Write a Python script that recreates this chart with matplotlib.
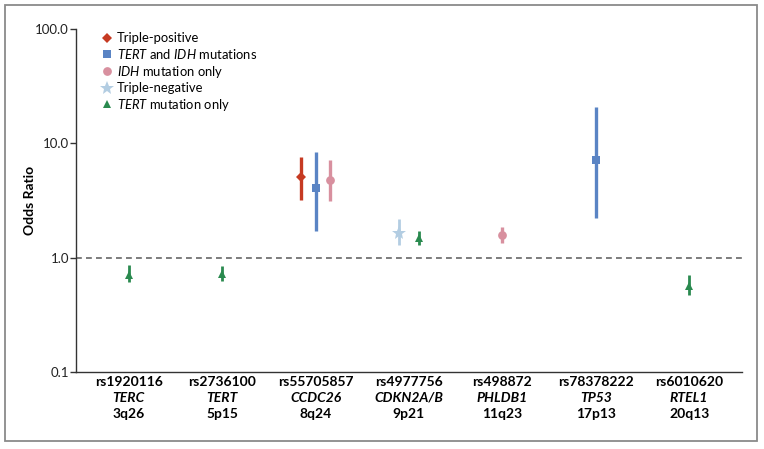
import numpy as np
import matplotlib
matplotlib.use("Agg")
import matplotlib.pyplot as plt
from matplotlib.lines import Line2D
from matplotlib.patches import Rectangle

plt.rcParams['font.family'] = ['Lato', 'DejaVu Sans']
plt.rcParams['mathtext.fontset'] = 'custom'
plt.rcParams['mathtext.rm'] = 'Lato'
plt.rcParams['mathtext.it'] = 'Lato:italic'
plt.rcParams['mathtext.bf'] = 'Lato:bold'

# categories (x axis)
snps = ['rs1920116', 'rs2736100', 'rs55705857', 'rs4977756',
        'rs498872', 'rs78378222', 'rs6010620']
genes = ['TERC', 'TERT', 'CCDC26', 'CDKN2A/B', 'PHLDB1', 'TP53', 'RTEL1']
bands = ['3q26', '5p15', '8q24', '9p21', '11q23', '17p13', '20q13']

# odds ratios with 95% CI, per glioma subgroup
triple_pos_cat = [2]
triple_pos_or = [5.1]
triple_pos_lo = [3.2]
triple_pos_hi = [7.6]

tert_idh_cat = [2, 5]
tert_idh_or = [4.1, 7.1]
tert_idh_lo = [1.7, 2.24]
tert_idh_hi = [8.4, 20.9]

idh_only_cat = [2, 4]
idh_only_or = [4.8, 1.57]
idh_only_lo = [3.1, 1.34]
idh_only_hi = [7.1, 1.85]

triple_neg_cat = [3]
triple_neg_or = [1.66]
triple_neg_lo = [1.29]
triple_neg_hi = [2.18]

tert_only_cat = [0, 1, 3, 6]
tert_only_or = [0.71, 0.72, 1.49, 0.56]
tert_only_lo = [0.61, 0.63, 1.29, 0.47]
tert_only_hi = [0.86, 0.85, 1.71, 0.70]

yticks = [0.1, 1.0, 10.0, 100.0]
ytick_labels = ['0.1', '1.0', '10.0', '100.0']


def main():
    fig = plt.figure(figsize=(7.64, 4.49), dpi=100)
    ax = fig.add_axes([0.0995, 0.1715, 0.8715, 0.7639])

    # (label, cats, or, lo, hi, marker, size, color, lw, offsets per category)
    series = [
        (r'Triple-positive', triple_pos_cat, triple_pos_or, triple_pos_lo,
         triple_pos_hi, 'D', 5.2, '#c63a22', 2.4, {2: -0.16}),
        (r'$\mathit{TERT}$ and $\mathit{IDH}$ mutations', tert_idh_cat,
         tert_idh_or, tert_idh_lo, tert_idh_hi, 's', 5.8, '#5a84c4', 2.4,
         {2: 0.0}),
        (r'$\mathit{IDH}$ mutation only', idh_only_cat, idh_only_or,
         idh_only_lo, idh_only_hi, 'o', 6.3, '#d8909f', 2.4, {2: 0.16}),
        (r'Triple-negative', triple_neg_cat, triple_neg_or, triple_neg_lo,
         triple_neg_hi, '*', 10.5, '#b3cde2', 2.0, {3: -0.107}),
        (r'$\mathit{TERT}$ mutation only', tert_only_cat, tert_only_or,
         tert_only_lo, tert_only_hi, '^', 6.2, '#2a8a4f', 2.0, {3: 0.107}),
    ]

    handles = []
    for label, cats, ors, lo, hi, mk, ms, col, lw, offs in series:
        x = np.array([c + offs.get(c, 0.0) for c in cats])
        ors = np.array(ors)
        yerr = [ors - np.array(lo), np.array(hi) - ors]
        ax.errorbar(x, ors, yerr=yerr, fmt=mk, ms=ms, color=col, ecolor=col,
                    elinewidth=lw, capsize=0, mew=0, zorder=3)
        handles.append(Line2D([], [], ls='none', marker=mk, ms=ms,
                              color=col, mew=0, label=label))

    ax.axhline(1.0, color='#666666', lw=1.2, ls=(0, (3.5, 2.5)), zorder=1)

    ax.set_yscale('log')
    ax.set_ylim(0.1, 100)
    ax.set_xlim(-0.565, 6.565)
    ax.yaxis.set_major_locator(matplotlib.ticker.FixedLocator(yticks))
    ax.yaxis.set_minor_locator(matplotlib.ticker.NullLocator())
    ax.set_yticklabels(ytick_labels)
    ax.tick_params(axis='y', length=4, width=1, color='#333333',
                   labelsize=9.5, labelcolor='#222222', pad=1)
    ax.set_xticks([])
    for s in ['top', 'right']:
        ax.spines[s].set_visible(False)
    for s in ['left', 'bottom']:
        ax.spines[s].set_color('#333333')
        ax.spines[s].set_linewidth(1.0)

    ax.set_ylabel('Odds Ratio', fontsize=10, fontweight='bold', labelpad=0)
    ax.yaxis.set_label_coords(-0.06, 0.5)

    # category labels, three lines each
    trans = matplotlib.transforms.blended_transform_factory(ax.transData,
                                                            fig.transFigure)
    for i in range(len(snps)):
        ax.text(i, 1 - 382 / 449, snps[i], transform=trans, ha='center',
                va='center', fontsize=10, fontweight='bold')
        ax.text(i, 1 - 398 / 449, genes[i], transform=trans, ha='center',
                va='center', fontsize=10, fontweight='bold', style='italic')
        ax.text(i, 1 - 414 / 449, bands[i], transform=trans, ha='center',
                va='center', fontsize=10, fontweight='bold')

    ax.legend(handles=handles, loc='upper left', frameon=False, fontsize=9.4,
              bbox_to_anchor=(0.04, 0.99), borderaxespad=0, borderpad=0,
              handlelength=0.7, handletextpad=0.4, labelspacing=0.2)

    fig.patches.append(Rectangle((5 / 764, 8 / 449), 752 / 764, 436 / 449,
                                 transform=fig.transFigure, fill=False,
                                 ec='#8a8a8a', lw=1.3))

    fig.savefig('out.png', dpi=100)


if __name__ == '__main__':
    main()
